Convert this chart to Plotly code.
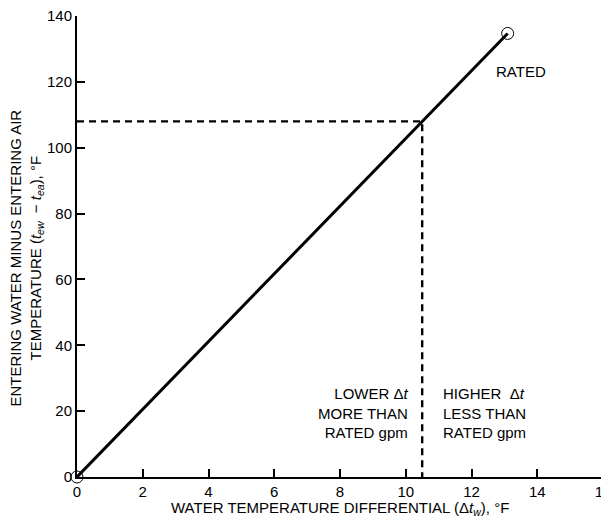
import plotly.graph_objects as go

# Data
line_x = [0, 10.5, 13.1]
line_y = [0, 108, 134.7]
rated_x = [0, 13.1]
rated_y = [0, 134.7]
cross_x = 10.5
cross_y = 108
x_ticks = [0, 2, 4, 6, 8, 10, 12, 14, 16]
y_ticks = [0, 20, 40, 60, 80, 100, 120, 140]

FONT = "Arial, Liberation Sans, Helvetica, sans-serif"
FS = 15

fig = go.Figure()
# dashed guides
fig.add_trace(go.Scatter(x=[0, cross_x, cross_x], y=[cross_y, cross_y, 0], mode="lines",
                         line=dict(color="black", width=2.4, dash="7px,5px"),
                         hoverinfo="skip", showlegend=False, cliponaxis=False))
fig.add_trace(go.Scatter(x=line_x, y=line_y, mode="lines",
                         line=dict(color="black", width=3),
                         showlegend=False, cliponaxis=False))
fig.add_trace(go.Scatter(x=rated_x, y=rated_y, mode="markers",
                         marker=dict(symbol="circle-open", size=12, color="black",
                                     line=dict(width=1, color="black")),
                         showlegend=False, cliponaxis=False))

fig.add_annotation(x=cross_x - 0.35, y=19.5, xref="x", yref="y",
                   text="LOWER Δ<i>t</i><br>MORE THAN<br>RATED gpm",
                   showarrow=False, align="right", xanchor="right", yanchor="middle",
                   font=dict(family=FONT, size=FS, color="black"))
fig.add_annotation(x=cross_x + 0.56, y=19.5, xref="x", yref="y",
                   text="HIGHER  Δ<i>t</i><br>LESS THAN<br>RATED gpm",
                   showarrow=False, align="left", xanchor="left", yanchor="middle",
                   font=dict(family=FONT, size=FS, color="black"))
fig.add_annotation(x=13.5, y=123, xref="x", yref="y", text="RATED",
                   showarrow=False, xanchor="center", yanchor="middle",
                   font=dict(family=FONT, size=FS, color="black"))

# axis titles
fig.add_annotation(x=0.5, y=-0.068, xref="paper", yref="paper",
                   text="WATER TEMPERATURE DIFFERENTIAL (Δ<i>t<sub>w</sub></i>), °F",
                   showarrow=False, xanchor="center", yanchor="middle",
                   font=dict(family=FONT, size=FS, color="black"))
fig.add_annotation(x=-0.096, y=0.475, xref="paper", yref="paper", textangle=-90,
                   text="ENTERING WATER MINUS ENTERING AIR<br>TEMPERATURE (<i>t<sub>ew</sub></i>  − <i>t<sub>ea</sub></i>), °F",
                   showarrow=False, xanchor="center", yanchor="middle",
                   font=dict(family=FONT, size=FS, color="black"))

# page body has an 8px margin, so the figure is sized to fill the rest of the window
fig.update_layout(
    width=601, height=513,
    margin=dict(l=69, r=6, t=8, b=44),
    paper_bgcolor="white", plot_bgcolor="white",
    font=dict(family=FONT, size=FS, color="black"),
    xaxis=dict(range=[0, 16], tickvals=x_ticks, showgrid=False, zeroline=False,
               showline=True, linecolor="black", linewidth=2, automargin=False,
               ticks="inside", ticklen=8, tickwidth=2, tickcolor="black",
               ticklabeloverflow="allow",
               tickfont=dict(family=FONT, size=FS)),
    yaxis=dict(range=[0, 140], tickvals=y_ticks, showgrid=False, zeroline=False,
               showline=True, linecolor="black", linewidth=2, automargin=False,
               ticks="inside", ticklen=8, tickwidth=2, tickcolor="black",
               ticklabeloverflow="allow",
               tickfont=dict(family=FONT, size=FS)),
)

fig.write_html("out.html")
